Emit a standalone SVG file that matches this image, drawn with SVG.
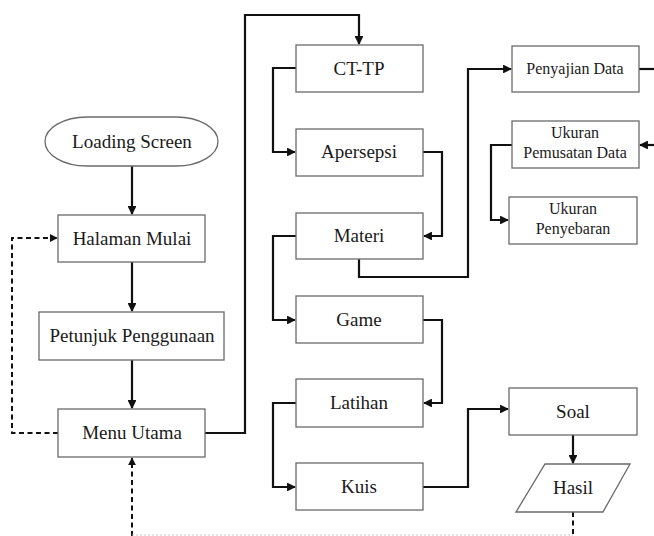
<svg xmlns="http://www.w3.org/2000/svg" width="654" height="536" viewBox="0 0 654 536">
<style>
.box{fill:#fff;stroke:#6a6a6a;stroke-width:1.3}
.t{font-size:19px;fill:#1a1a1a;text-anchor:middle}
.s{font-size:16px;fill:#1a1a1a;text-anchor:middle}
.c{fill:none;stroke:#111;stroke-width:2.2}
.d{fill:none;stroke:#111;stroke-width:2;stroke-dasharray:5,3.5}
</style>
<defs>
<marker id="ah" viewBox="0 0 10 10" refX="9" refY="5" markerWidth="4" markerHeight="4" orient="auto" markerUnits="strokeWidth">
<path d="M0,0 L10,5 L0,10 z" fill="#111"/>
</marker>
</defs>
<rect width="654" height="536" fill="#fff"/>
<g id="connectors">
<path class="c" d="M132,166 V214" marker-end="url(#ah)"/>
<path class="c" d="M132,262 V311" marker-end="url(#ah)"/>
<path class="c" d="M132,360 V408" marker-end="url(#ah)"/>
<path class="d" d="M58,433 H12 V238 H57" marker-end="url(#ah)"/>
<path class="d" d="M132,536 V458" marker-end="url(#ah)"/>
<path class="d" d="M573,512 V536"/>
<path d="M132,535 H573" fill="none" stroke="#ccc" stroke-width="1" stroke-dasharray="2,2"/>
<path class="c" d="M205,433 H245 V15 H359 V44" marker-end="url(#ah)"/>
<path class="c" d="M296,68 H273 V152 H295" marker-end="url(#ah)"/>
<path class="c" d="M423,152 H442 V236 H424" marker-end="url(#ah)"/>
<path class="c" d="M296,236 H273 V320 H295" marker-end="url(#ah)"/>
<path class="c" d="M423,320 H442 V403 H424" marker-end="url(#ah)"/>
<path class="c" d="M296,403 H273 V487 H295" marker-end="url(#ah)"/>
<path class="c" d="M359,259 V277 H468 V69 H511" marker-end="url(#ah)"/>
<path class="c" d="M639,69 H660"/>
<path class="c" d="M660,145 H640" marker-end="url(#ah)"/>
<path class="c" d="M512,145 H491 V220 H508" marker-end="url(#ah)"/>
<path class="c" d="M423,487 H468 V409 H508" marker-end="url(#ah)"/>
<path class="c" d="M573,435 V463" marker-end="url(#ah)"/>
</g>
<g font-family="Liberation Serif, Times New Roman, Times, serif">
<g id="loading"><rect class="box" x="45" y="117" width="173" height="49" rx="42" ry="24.5"/><text class="t" x="132" y="148">Loading Screen</text></g>
<g id="halaman"><rect class="box" x="58" y="215" width="147" height="47"/><text class="t" x="132" y="245">Halaman Mulai</text></g>
<g id="petunjuk"><rect class="box" x="39" y="312" width="185" height="48"/><text class="t" x="132" y="342">Petunjuk Penggunaan</text></g>
<g id="menu"><rect class="box" x="58" y="409" width="147" height="48"/><text class="t" x="132" y="439">Menu Utama</text></g>
<g id="cttp"><rect class="box" x="296" y="45" width="127" height="47"/><text class="t" x="359" y="75">CT-TP</text></g>
<g id="apersepsi"><rect class="box" x="296" y="129" width="127" height="47"/><text class="t" x="359" y="158">Apersepsi</text></g>
<g id="materi"><rect class="box" x="296" y="213" width="127" height="46"/><text class="t" x="359" y="242">Materi</text></g>
<g id="game"><rect class="box" x="296" y="296" width="127" height="47"/><text class="t" x="359" y="326">Game</text></g>
<g id="latihan"><rect class="box" x="296" y="379" width="127" height="48"/><text class="t" x="359" y="409">Latihan</text></g>
<g id="kuis"><rect class="box" x="296" y="463" width="127" height="47"/><text class="t" x="359" y="493">Kuis</text></g>
<g id="penyajian"><rect class="box" x="512" y="46" width="127" height="46"/><text class="s" x="575" y="74">Penyajian Data</text></g>
<g id="pemusatan"><rect class="box" x="512" y="121" width="127" height="47"/><text class="s" x="575" y="138">Ukuran</text><text class="s" x="575" y="158">Pemusatan Data</text></g>
<g id="penyebaran"><rect class="box" x="509" y="197" width="128" height="47"/><text class="s" x="573" y="214">Ukuran</text><text class="s" x="573" y="234">Penyebaran</text></g>
<g id="soal"><rect class="box" x="509" y="388" width="128" height="47"/><text class="t" x="573" y="418">Soal</text></g>
<g id="hasil"><polygon class="box" points="545,464 630,464 603,512 516,512"/><text class="t" x="573" y="494">Hasil</text></g>
</g>
</svg>
